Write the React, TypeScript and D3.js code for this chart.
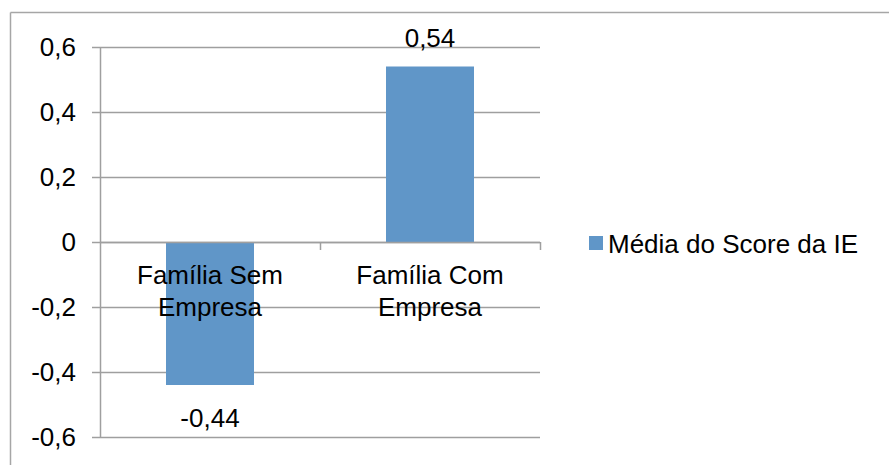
import React from "react";
import * as d3 from "d3";

const categories: string[][] = [
  ["Família Sem", "Empresa"],
  ["Família Com", "Empresa"],
];
const seriesName = "Média do Score da IE";
const values: number[] = [-0.44, 0.54];
const valueLabels: string[] = ["-0,44", "0,54"];
const yTicks: number[] = [0.6, 0.4, 0.2, 0, -0.2, -0.4, -0.6];
const yTickLabels: string[] = ["0,6", "0,4", "0,2", "0", "-0,2", "-0,4", "-0,6"];

const W = 889;
const H = 465;
const plot = { left: 100, right: 540, top: 47, bottom: 437 };
const BAR = "#6096C8";
const GRID = "#9F9F9F";
const FONT = "'Liberation Sans', Arial, sans-serif";

export default function App() {
  const y = d3.scaleLinear().domain([-0.6, 0.6]).range([plot.bottom, plot.top]);
  const x = d3
    .scaleBand<number>()
    .domain(d3.range(categories.length))
    .range([plot.left, plot.right])
    .paddingInner(0.6)
    .paddingOuter(0.3);
  const step = x.step();
  const y0 = y(0);

  return (
    <svg
      width={W}
      height={H}
      style={{ position: "absolute", left: 0, top: 0, background: "#fff" }}
      fontFamily={FONT}
    >
      {/* chart border */}
      <line x1={10.5} x2={W} y1={12.5} y2={12.5} stroke="#A6A6A6" strokeWidth={1.5} />
      <line x1={10.5} x2={10.5} y1={12.5} y2={H} stroke="#A6A6A6" strokeWidth={1.5} />

      {/* gridlines + y ticks */}
      {yTicks.map((t, i) => (
        <g key={t}>
          <line
            x1={plot.left - 8}
            x2={plot.right}
            y1={Math.round(y(t)) + 0.5}
            y2={Math.round(y(t)) + 0.5}
            stroke={GRID}
            strokeWidth={1.5}
          />
          <text
            x={76}
            y={y(t) + 9}
            textAnchor="end"
            fontSize={26}
            fill="#000"
          >
            {yTickLabels[i]}
          </text>
        </g>
      ))}

      {/* bars */}
      {values.map((v, i) => (
        <rect
          key={i}
          x={x(i)}
          width={x.bandwidth()}
          y={Math.min(y(v), y0)}
          height={Math.abs(y(v) - y0)}
          fill={BAR}
        />
      ))}

      {/* y axis */}
      <line
        x1={plot.left + 0.5}
        x2={plot.left + 0.5}
        y1={plot.top}
        y2={plot.bottom + 1}
        stroke={GRID}
        strokeWidth={1.5}
      />
      {/* x axis at zero */}
      <line
        x1={plot.left}
        x2={plot.right}
        y1={Math.round(y0) + 0.5}
        y2={Math.round(y0) + 0.5}
        stroke={GRID}
        strokeWidth={1.5}
      />
      {categories.map((_, i) => (
        <line
          key={i}
          x1={plot.left + step * (i + 1) + 0.5}
          x2={plot.left + step * (i + 1) + 0.5}
          y1={y0}
          y2={y0 + 8}
          stroke={GRID}
          strokeWidth={1.5}
        />
      ))}

      {/* category labels */}
      {categories.map((lines, i) => (
        <text
          key={i}
          x={(x(i) as number) + x.bandwidth() / 2}
          y={284}
          textAnchor="middle"
          fontSize={26}
          fill="#000"
        >
          {lines.map((ln, j) => (
            <tspan key={j} x={(x(i) as number) + x.bandwidth() / 2} dy={j === 0 ? 0 : 32}>
              {ln}
            </tspan>
          ))}
        </text>
      ))}

      {/* value labels */}
      {values.map((v, i) => (
        <text
          key={i}
          x={(x(i) as number) + x.bandwidth() / 2}
          y={v >= 0 ? y(v) - 20 : y(v) + 42}
          textAnchor="middle"
          fontSize={26}
          fill="#000"
        >
          {valueLabels[i]}
        </text>
      ))}

      {/* legend */}
      <rect x={589} y={236} width={14} height={14} fill={BAR} />
      <text x={608} y={253} fontSize={26} fill="#000">
        {seriesName}
      </text>
    </svg>
  );
}
